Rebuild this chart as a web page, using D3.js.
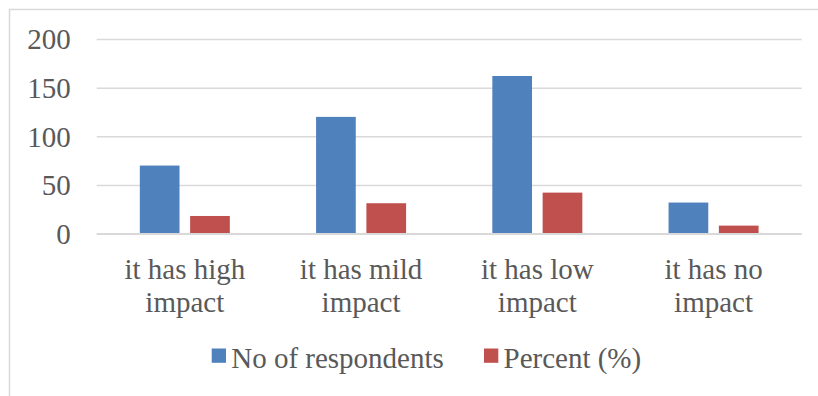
<!DOCTYPE html>
<html>
<head>
<meta charset="utf-8">
<script src="https://cdn.jsdelivr.net/npm/d3@7"></script>
<style>
  html, body { margin: 0; padding: 0; background: #fff; }
  svg { display: block; }
  text { font-family: "Liberation Serif", Tinos, "Times New Roman", Times, "DejaVu Serif", serif; fill: #595959; }
</style>
</head>
<body>
<svg id="chart" width="818" height="396"></svg>
<script>
// Impact responses: counts and share of respondents
const categories = ["it has high impact", "it has mild impact", "it has low impact", "it has no impact"];
const seriesNames = ["No of respondents", "Percent (%)"];
const respondents = [70, 120, 162, 32];
const percent = [18.2, 31.3, 42.2, 8.3];
const yTicks = [0, 50, 100, 150, 200];
const colors = ["#4f81bd", "#c0504d"];

const FONT = '"Liberation Serif", Tinos, "Times New Roman", Times, "DejaVu Serif", serif';
const svg = d3.select("#chart").style("font-family", FONT);
const W = 818, H = 396;
const plot = { left: 96.7, right: 801.7, top: 39, bottom: 233.7 };
const fontSize = 29;

// chart area frame (top and left edges visible)
svg.append("rect")
  .attr("x", 9.5).attr("y", 9.5)
  .attr("width", W + 20).attr("height", H + 20)
  .attr("fill", "none").attr("stroke", "#d9d9d9").attr("stroke-width", 1.5);

const x = d3.scaleBand().domain(categories).range([plot.left, plot.right]).padding(0);
const xs = d3.scaleBand().domain(seriesNames).range([0, x.bandwidth()])
  .paddingInner(0.211).paddingOuter(0.857);
const y = d3.scaleLinear().domain([0, 200]).range([plot.bottom, plot.top]);

// gridlines
const yAxis = d3.axisLeft(y).tickValues(yTicks).tickSize(-(plot.right - plot.left)).tickPadding(26);
const gy = svg.append("g").attr("transform", `translate(${plot.left},0)`).call(yAxis)
  .attr("font-family", null).attr("font-size", null);
gy.select(".domain").remove();
gy.selectAll(".tick line").attr("stroke", "#d9d9d9").attr("stroke-width", 1.5);
gy.selectAll(".tick text")
  .style("font-family", FONT)
  .attr("font-size", fontSize)
  .attr("fill", "#595959")
  .attr("dy", "0.34em");

// bars
const rows = categories.map((c, i) => ({ cat: c, vals: [respondents[i], percent[i]] }));
const groups = svg.append("g").selectAll("g").data(rows).join("g")
  .attr("transform", d => `translate(${x(d.cat)},0)`);
groups.selectAll("rect")
  .data(d => d.vals.map((v, j) => ({ name: seriesNames[j], v, j })))
  .join("rect")
  .attr("x", d => xs(d.name))
  .attr("width", xs.bandwidth())
  .attr("y", d => y(d.v))
  .attr("height", d => y(0) - y(d.v))
  .attr("fill", d => colors[d.j]);

// baseline
svg.append("line")
  .attr("x1", plot.left).attr("x2", plot.right)
  .attr("y1", y(0)).attr("y2", y(0))
  .attr("stroke", "#d9d9d9").attr("stroke-width", 1.5);

// category labels, two lines each
const xl = svg.append("g");
categories.forEach(c => {
  const words = c.split(" ");
  const lines = [words.slice(0, -1).join(" "), words[words.length - 1]];
  const cx = x(c) + x.bandwidth() / 2;
  const t = xl.append("text")
    .attr("text-anchor", "middle")
    .attr("font-size", fontSize)
    .attr("x", cx)
    .attr("y", 279);
  lines.forEach((ln, k) => {
    t.append("tspan").attr("x", cx).attr("dy", k === 0 ? 0 : 32.5).text(ln);
  });
});

// legend
const legend = svg.append("g");
const legendX = [211.7, 484];
seriesNames.forEach((s, i) => {
  legend.append("rect")
    .attr("x", legendX[i]).attr("y", 348.5)
    .attr("width", 14.3).attr("height", 14.3)
    .attr("fill", colors[i]);
  legend.append("text")
    .attr("x", legendX[i] + 19.5).attr("y", 368.3)
    .attr("font-size", fontSize)
    .text(s);
});
</script>
</body>
</html>
